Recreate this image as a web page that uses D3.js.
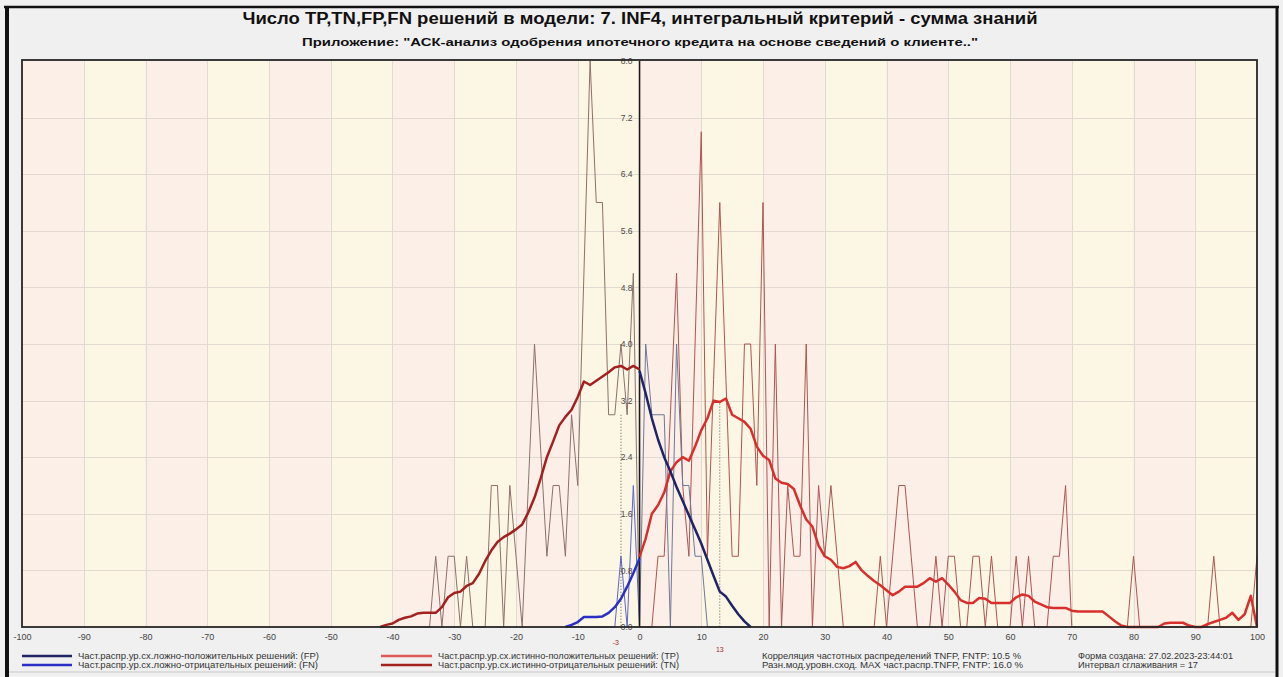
<!DOCTYPE html>
<html>
<head>
<meta charset="utf-8">
<script src="https://cdn.jsdelivr.net/npm/d3@7"></script>
<style>
  html, body { margin: 0; padding: 0; background: #f0f0f0; }
  svg { display: block; }
  text { font-family: "Liberation Sans Narrow", "Arial Narrow", "Liberation Sans", Arial, sans-serif; }
</style>
</head>
<body>
<svg id="chart" width="1283" height="677"></svg>
<script>
// ---- texts ----
const titleText = "Число TP,TN,FP,FN решений в модели: 7. INF4, интегральный критерий - сумма знаний";
const subtitleText = "Приложение: \"АСК-анализ одобрения ипотечного кредита на основе сведений о клиенте..\"";

// ---- axes ----
const xTicks = [-100, -90, -80, -70, -60, -50, -40, -30, -20, -10, 0, 10, 20, 30, 40, 50, 60, 70, 80, 90, 100];
const yTicks = [0, 0.8, 1.6, 2.4, 3.2, 4.0, 4.8, 5.6, 6.4, 7.2, 8.0];

// ---- frequency distributions (%), one value per integer score ----
// true negative decisions (TN), scores -42 .. 0
const tnStart = -42;
const tnRaw = [0, 0, 0, 0, 0, 0, 0, 0, 0,
  1, 0, 1, 1, 0, 1, 0, 0, 0,
  2, 2, 0, 2, 1, 0, 2, 4, 2.5, 1, 2, 2, 1, 3, 2, 5, 8, 6, 6, 3, 3, 4, 3, 5, 0];
const tnSmooth = [0, 0.03, 0.05, 0.1, 0.13, 0.15, 0.19, 0.2, 0.2, 0.2,
  0.28, 0.42, 0.48, 0.5, 0.58, 0.62, 0.75, 0.93, 1.08, 1.2,
  1.27, 1.32, 1.38, 1.45, 1.62, 1.83, 2.1, 2.4, 2.62, 2.85,
  2.97, 3.07, 3.25, 3.47, 3.42, 3.48, 3.54, 3.6, 3.67, 3.69,
  3.64, 3.69, 3.64];

// false negative decisions (FN), scores -12 .. 0
const fnStart = -12;
const fnRaw = [0, 0, 0, 0, 0, 0, 0, 0, 0, 1, 0, 2, 0];
const fnSmooth = [0, 0.03, 0.07, 0.14, 0.14, 0.14, 0.15, 0.2, 0.28, 0.4, 0.57, 0.76, 0.97];

// false positive decisions (FP), scores 0 .. 18
const fpStart = 0;
const fpRaw = [0, 4, 3, 3, 3, 0, 4, 2, 2, 1, 1, 0, 0, 0, 0, 0, 0, 0, 0];
const fpSmooth = [3.62, 3.3, 2.95, 2.65, 2.4, 2.2, 1.98, 1.78, 1.58, 1.38,
  1.18, 0.95, 0.72, 0.5, 0.43, 0.3, 0.18, 0.08, 0];

// true positive decisions (TP), scores 0 .. 100
const tpStart = 0;
const tpRaw = [0, 0, 0, 1, 1, 3, 5, 2, 1, 4,
  7, 1, 3.5, 6, 3.5, 1, 1, 4, 4, 2,
  6, 0, 4, 0, 2, 1, 1, 4, 0, 2,
  1, 2, 1, 0, 0, 0, 0, 0, 0, 1,
  0, 1, 2, 2, 1, 0, 0, 0, 1, 0,
  1, 1, 0, 0, 1, 1, 0, 1, 0, 0,
  0, 1, 0, 1, 0, 0, 0, 1, 1, 2,
  0, 0, 0, 0, 0, 0, 0, 0, 0, 0,
  1, 0, 0, 0, 0, 0, 0, 0, 0, 0,
  0, 0, 0, 1, 0, 0, 0, 0, 0, 0,
  1];
const tpSmooth = [0.99, 1.25, 1.6, 1.72, 1.9, 2.2, 2.33, 2.4, 2.35, 2.55,
  2.78, 2.95, 3.2, 3.18, 3.23, 3.0, 2.95, 2.9, 2.8, 2.55,
  2.42, 2.36, 2.1, 2.04, 2.02, 1.95, 1.72, 1.52, 1.42, 1.15,
  1.0, 0.95, 0.85, 0.83, 0.86, 0.92, 0.8, 0.72, 0.65, 0.59,
  0.52, 0.45, 0.5, 0.57, 0.57, 0.57, 0.62, 0.69, 0.64, 0.69,
  0.6, 0.5, 0.38, 0.34, 0.34, 0.41, 0.4, 0.34, 0.34, 0.34,
  0.34, 0.42, 0.46, 0.44, 0.36, 0.32, 0.28, 0.27, 0.27, 0.27,
  0.23, 0.22, 0.22, 0.22, 0.22, 0.22, 0.15, 0.08, 0.02, 0,
  0, 0, 0, 0, 0, 0.05, 0.06, 0.06, 0.06, 0.02,
  0, 0, 0.04, 0.07, 0.1, 0.13, 0.2, 0.1, 0.18, 0.44,
  0];

// modes of the smoothed distributions
const modeScores = [-3, 13];
const modeTops = [3.0, 3.2];
const modeLabels = ["-3", "13"];

// ---- legend and statistics ----
const legendLeft = [
  "Част.распр.ур.сх.ложно-положительных решений: (FP)",
  "Част.распр.ур.сх.ложно-отрицательных решений: (FN)"
];
const legendRight = [
  "Част.распр.ур.сх.истинно-положительных решений: (TP)",
  "Част.распр.ур.сх.истинно-отрицательных решений: (TN)"
];
const statLines = [
  "Корреляция частотных распределений TNFP, FNTP: 10.5 %",
  "Разн.мод.уровн.сход. MAX част.распр.TNFP, FNTP:  16.0 %"
];
const infoLines = [
  "Форма создана: 27.02.2023-23:44:01",
  "Интервал сглаживания = 17"
];

// ---- drawing ----
const W = 1283, H = 677;
const plot = { left: 22, right: 1257, top: 61, bottom: 627 };
const fontStack = "\"Liberation Sans Narrow\", \"Arial Narrow\", \"Liberation Sans\", Arial, sans-serif";

const colors = {
  fp: "#1f2466", fn: "#2b2fc4", tp: "#d7302c", tn: "#a3201e",
  fpRaw: "#6f7896", fnRaw: "#5b66c9", tpRaw: "#ad5550", tnRaw: "#8d706b"
};

const svg = d3.select("#chart");

svg.append("rect").attr("width", W).attr("height", H).attr("fill", "#f0f0f0");

const x = d3.scaleLinear().domain([-100, 100]).range([plot.left, plot.right]);
const y = d3.scaleLinear().domain([0, 8]).range([plot.bottom, plot.top]);

// alternating background bands, one per 10 score units
const bands = svg.append("g");
for (let i = 0; i < xTicks.length - 1; i++) {
  bands.append("rect")
    .attr("x", x(xTicks[i]))
    .attr("y", y(8))
    .attr("width", x(xTicks[i + 1]) - x(xTicks[i]))
    .attr("height", y(0) - y(8))
    .attr("fill", i % 2 === 0 ? "#fbefe8" : "#fcf6e5");
}

// grid
const grid = svg.append("g").attr("stroke", "#e2d9d0").attr("stroke-width", 1);
grid.selectAll("line.v").data(xTicks.slice(1, -1)).join("line")
  .attr("x1", d => Math.round(x(d)) + 0.5).attr("x2", d => Math.round(x(d)) + 0.5)
  .attr("y1", y(8)).attr("y2", y(0));
grid.selectAll("line.h").data(yTicks.slice(1, -1)).join("line")
  .attr("x1", x(-100)).attr("x2", x(100))
  .attr("y1", d => Math.round(y(d)) + 0.5).attr("y2", d => Math.round(y(d)) + 0.5);

const toPoints = (start, values) => values.map((v, i) => [start + i, v]);
const line = d3.line().x(d => x(d[0])).y(d => y(d[1]));

function drawSeries(start, values, color, width) {
  svg.append("path")
    .datum(toPoints(start, values))
    .attr("d", line)
    .attr("fill", "none")
    .attr("stroke", color)
    .attr("stroke-width", width)
    .attr("stroke-linejoin", "round");
}

// raw distributions (thin)
drawSeries(tnStart, tnRaw, colors.tnRaw, 1);
drawSeries(tpStart, tpRaw, colors.tpRaw, 1);
drawSeries(fpStart, fpRaw, colors.fpRaw, 1);
drawSeries(fnStart, fnRaw, colors.fnRaw, 1);

// mode markers
modeScores.forEach((s, i) => {
  svg.append("line")
    .attr("x1", x(s)).attr("x2", x(s))
    .attr("y1", y(modeTops[i])).attr("y2", y(0))
    .attr("stroke", "#555").attr("stroke-width", 1)
    .attr("stroke-dasharray", "1,2");
});

// zero score line
svg.append("line")
  .attr("x1", x(0)).attr("x2", x(0)).attr("y1", y(8)).attr("y2", y(0))
  .attr("stroke", "#1a1a1a").attr("stroke-width", 1.5);

// smoothed distributions (thick)
drawSeries(tnStart, tnSmooth, colors.tn, 2.5);
drawSeries(tpStart, tpSmooth, colors.tp, 2.5);
drawSeries(fnStart, fnSmooth, colors.fn, 2.5);
drawSeries(fpStart, fpSmooth, colors.fp, 2.5);

// y tick labels beside the zero line
const yAxis = svg.append("g")
  .attr("transform", `translate(${x(0) - 7},0)`)
  .call(d3.axisLeft(y).tickValues(yTicks).tickSize(0).tickPadding(0).tickFormat(d3.format(".1f")));
yAxis.select(".domain").remove();
yAxis.selectAll("text").attr("font-size", 8.5).attr("fill", "#4a4a4a").style("font-family", fontStack);

// plot frame
svg.append("rect")
  .attr("x", plot.left).attr("y", plot.top - 1)
  .attr("width", plot.right - plot.left).attr("height", plot.bottom - plot.top + 1)
  .attr("fill", "none").attr("stroke", "#262626").attr("stroke-width", 1.8);

// x tick labels
const xAxis = svg.append("g")
  .attr("transform", `translate(0,${y(0)})`)
  .call(d3.axisBottom(x).tickValues(xTicks).tickSize(0).tickPadding(7).tickFormat(d => String(d)));
xAxis.select(".domain").remove();
xAxis.selectAll("text").attr("font-size", 9).attr("fill", "#444").style("font-family", fontStack);

// mode labels, just below the axis next to their markers
modeScores.forEach((s, i) => {
  svg.append("text")
    .attr("x", x(s) + (i === 0 ? -2 : 0)).attr("y", i === 0 ? 645 : 652)
    .attr("text-anchor", i === 0 ? "end" : "middle").attr("font-size", 7)
    .attr("fill", "#a52a2a").text(modeLabels[i]);
});

// titles
svg.append("text")
  .attr("x", 640).attr("y", 24).attr("text-anchor", "middle")
  .attr("font-size", 16).attr("font-weight", "bold").attr("fill", "#111")
  .attr("textLength", 795).attr("lengthAdjust", "spacingAndGlyphs")
  .text(titleText);
svg.append("text")
  .attr("x", 640).attr("y", 46).attr("text-anchor", "middle")
  .attr("font-size", 11.5).attr("font-weight", "bold").attr("fill", "#111")
  .attr("textLength", 676).attr("lengthAdjust", "spacingAndGlyphs")
  .text(subtitleText);

// legend
const rowsY = [656, 665];
const legendItems = [
  { x1: 22, x2: 72, tx: 78, tw: 241, color: colors.fp, text: legendLeft[0], row: 0 },
  { x1: 22, x2: 72, tx: 78, tw: 240, color: colors.fn, text: legendLeft[1], row: 1 },
  { x1: 381, x2: 432, tx: 438, tw: 241, color: "#e05858", text: legendRight[0], row: 0 },
  { x1: 381, x2: 432, tx: 438, tw: 241, color: colors.tn, text: legendRight[1], row: 1 }
];
legendItems.forEach(it => {
  svg.append("line")
    .attr("x1", it.x1).attr("x2", it.x2)
    .attr("y1", rowsY[it.row]).attr("y2", rowsY[it.row])
    .attr("stroke", it.color).attr("stroke-width", 2.6);
  svg.append("text")
    .attr("x", it.tx).attr("y", rowsY[it.row] + 3)
    .attr("font-size", 9).attr("fill", "#333")
    .attr("textLength", it.tw).attr("lengthAdjust", "spacingAndGlyphs")
    .text(it.text);
});
const statWidths = [259, 261];
statLines.forEach((t, i) => {
  svg.append("text")
    .attr("x", 762).attr("y", rowsY[i] + 3)
    .attr("font-size", 9).attr("fill", "#333")
    .attr("textLength", statWidths[i]).attr("lengthAdjust", "spacingAndGlyphs")
    .text(t);
});
const infoWidths = [155, 120];
infoLines.forEach((t, i) => {
  svg.append("text")
    .attr("x", 1078).attr("y", rowsY[i] + 3)
    .attr("font-size", 9).attr("fill", "#333")
    .attr("textLength", infoWidths[i]).attr("lengthAdjust", "spacingAndGlyphs")
    .text(t);
});

// window border
svg.append("line").attr("x1", 4).attr("x2", 1279).attr("y1", 7).attr("y2", 7)
  .attr("stroke", "#111").attr("stroke-width", 2.5);
svg.append("line").attr("x1", 7).attr("x2", 7).attr("y1", 6).attr("y2", H)
  .attr("stroke", "#111").attr("stroke-width", 4);
svg.append("line").attr("x1", 1277).attr("x2", 1277).attr("y1", 6).attr("y2", H)
  .attr("stroke", "#111").attr("stroke-width", 3);
svg.append("line").attr("x1", 9).attr("x2", 1275).attr("y1", 672).attr("y2", 672)
  .attr("stroke", "#c9c9c9").attr("stroke-width", 1);
</script>
</body>
</html>
